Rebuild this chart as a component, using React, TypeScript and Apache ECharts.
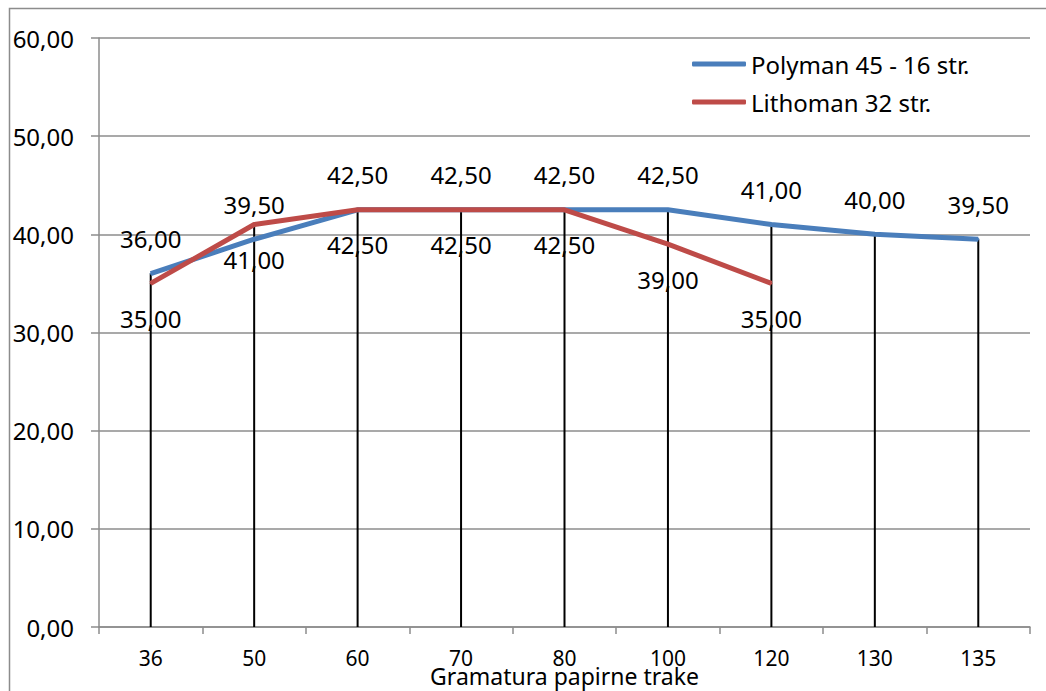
import React, { useEffect, useRef } from "react";
import * as echarts from "echarts";

const categories = ["36", "50", "60", "70", "80", "100", "120", "130", "135"];
const polyman = [36, 39.5, 42.5, 42.5, 42.5, 42.5, 41, 40, 39.5];
const lithoman = [35, 41, 42.5, 42.5, 42.5, 39, 35];
const yTicks = { min: 0, max: 60, interval: 10 };

const FONT = "'Noto Sans', 'Liberation Sans', sans-serif";
const fmt = (v: number) => v.toFixed(2).replace(".", ",");

export default function App() {
  const ref = useRef<HTMLDivElement>(null);
  useEffect(() => {
    document.body.style.margin = "0";
    const chart = echarts.init(ref.current!, null, { renderer: "svg" });
    const drop = categories.map((_, i) =>
      Math.max(polyman[i] ?? -Infinity, lithoman[i] ?? -Infinity)
    );
    chart.setOption({
      animation: false,
      backgroundColor: "#fff",
      textStyle: { fontFamily: FONT },
      grid: {
        left: 99,
        top: 38,
        right: 16,
        bottom: 64,
        containLabel: false,
        outerBoundsMode: "none",
      },
      graphic: [
        {
          type: "rect",
          shape: { x: 9.5, y: 8.5, width: 1200, height: 900 },
          style: { fill: "none", stroke: "#8c8c8c", lineWidth: 1.5 },
          silent: true,
          z: -1,
        },
      ],
      legend: {
        orient: "vertical",
        left: 692,
        top: 52,
        padding: 0,
        itemWidth: 54,
        itemHeight: 5,
        itemGap: 14,
        icon: "roundRect",
        textStyle: { fontSize: 24, color: "#000", fontFamily: FONT },
        data: ["Polyman 45 - 16 str.", "Lithoman 32 str."],
      },
      xAxis: {
        type: "category",
        data: categories,
        name: "Gramatura papirne trake",
        nameLocation: "middle",
        nameGap: 37,
        nameMoveOverlap: false,
        nameTextStyle: { fontSize: 23, color: "#000", fontFamily: FONT },
        axisLine: { lineStyle: { color: "#8c8c8c", width: 1.5 } },
        axisTick: { show: true, length: 7, lineStyle: { color: "#8c8c8c", width: 1.5 } },
        axisLabel: { fontSize: 21, color: "#000", margin: 20, fontFamily: FONT },
      },
      yAxis: {
        type: "value",
        min: yTicks.min,
        max: yTicks.max,
        interval: yTicks.interval,
        axisLine: { show: true, lineStyle: { color: "#8c8c8c", width: 1.5 } },
        axisTick: { show: true, length: 8, lineStyle: { color: "#8c8c8c", width: 1.5 } },
        axisLabel: {
          fontSize: 24,
          color: "#000",
          margin: 25,
          fontFamily: FONT,
          formatter: (v: number) => fmt(v),
        },
        splitLine: { lineStyle: { color: "#8c8c8c", width: 1.5 } },
      },
      series: [
        {
          type: "bar",
          data: drop,
          barWidth: 2,
          itemStyle: { color: "#000" },
          silent: true,
          z: 1,
        },
        {
          name: "Polyman 45 - 16 str.",
          type: "line",
          data: polyman,
          symbol: "circle",
          symbolSize: 2,
          showSymbol: true,
          color: "#4a7ebb",
          itemStyle: { color: "#4a7ebb" },
          lineStyle: { width: 5, color: "#4a7ebb" },
          z: 3,
          label: {
            show: true,
            position: "top",
            distance: 22,
            fontSize: 24,
            color: "#000",
            fontFamily: FONT,
            formatter: (p: any) => fmt(p.value),
          },
        },
        {
          name: "Lithoman 32 str.",
          type: "line",
          data: lithoman,
          symbol: "circle",
          symbolSize: 2,
          showSymbol: true,
          color: "#be4b48",
          itemStyle: { color: "#be4b48" },
          lineStyle: { width: 5, color: "#be4b48" },
          z: 4,
          label: {
            show: true,
            position: "bottom",
            distance: 22,
            fontSize: 24,
            color: "#000",
            fontFamily: FONT,
            formatter: (p: any) => fmt(p.value),
          },
        },
      ],
    });
    return () => chart.dispose();
  }, []);
  return <div ref={ref} style={{ width: 1046, height: 691 }} />;
}
